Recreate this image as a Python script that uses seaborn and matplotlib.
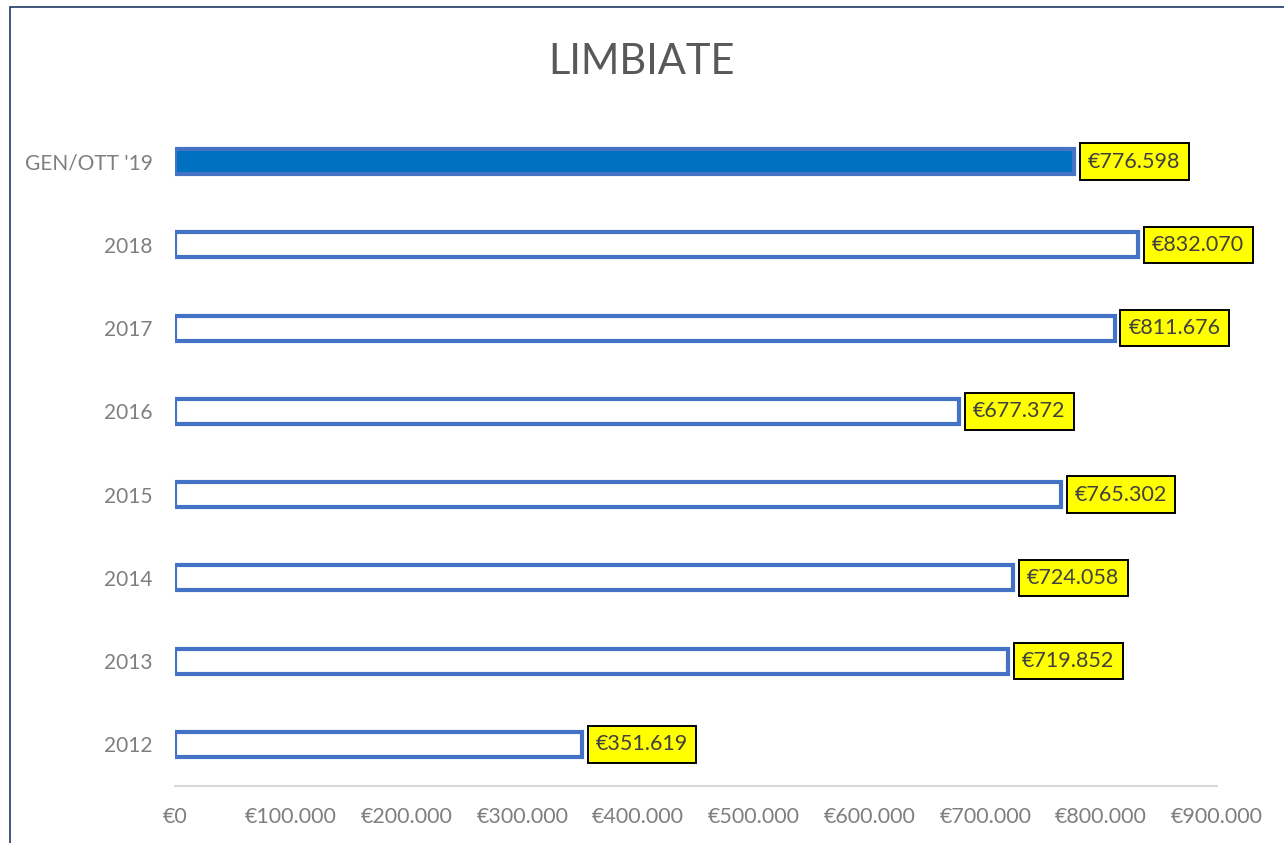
import numpy as np
import pandas as pd
import seaborn as sns
import matplotlib.pyplot as plt
from matplotlib.ticker import FuncFormatter, MultipleLocator
from matplotlib.patches import Rectangle

# Data
periods = ["GEN/OTT '19", "2018", "2017", "2016", "2015", "2014", "2013", "2012"]
amounts = [776598, 832070, 811676, 677372, 765302, 724058, 719852, 351619]

df = pd.DataFrame({"periodo": periods, "importo": amounts})


def euro(v):
    return "€" + f"{int(round(v)):,}".replace(",", ".")


sns.set_theme(style="white")
plt.rcParams['font.family'] = ['Lato', 'DejaVu Sans']

fig = plt.figure(figsize=(12.84, 8.43), dpi=100)
ax = fig.add_axes([0.1363, 0.0676, 0.8115, 0.79])

sns.barplot(data=df, x="importo", y="periodo", orient="h", order=periods,
            color="white", edgecolor="#4472C4", linewidth=3, width=0.3, ax=ax)

# first bar filled
ax.patches[0].set_facecolor("#0070C0")

# value labels in yellow boxes
for i, v in enumerate(amounts):
    ax.annotate(euro(v), xy=(v, i), xytext=(10, 0), textcoords="offset points",
                ha="left", va="center", fontsize=15.5, color="#404040",
                bbox=dict(boxstyle="square,pad=0.38", facecolor="yellow",
                          edgecolor="black", linewidth=1.4))

ax.set_xlim(0, 900000)
ax.set_ylim(7.5, -0.5)
ax.xaxis.set_major_locator(MultipleLocator(100000))
ax.xaxis.set_major_formatter(FuncFormatter(lambda v, p: euro(v)))
ax.set_xlabel("")
ax.set_ylabel("")
ax.tick_params(axis="x", length=0, labelsize=15.5, labelcolor="#7F7F7F", pad=15)
ax.tick_params(axis="y", length=0, labelsize=15, labelcolor="#7F7F7F", pad=16)

for side in ["top", "right", "left"]:
    ax.spines[side].set_visible(False)
ax.spines["bottom"].set_color("#D9D9D9")
ax.spines["bottom"].set_linewidth(1.5)

fig.text(0.5, 0.926, "LIMBIATE", ha="center", va="center", fontsize=30,
         color="#595959")

# chart frame
fig.add_artist(Rectangle((10 / 1284, -0.1), 1.2, 1.1 - 7 / 843,
                         transform=fig.transFigure, fill=False,
                         edgecolor="#1F3864", linewidth=1.2))

fig.savefig("out.png", dpi=100)
